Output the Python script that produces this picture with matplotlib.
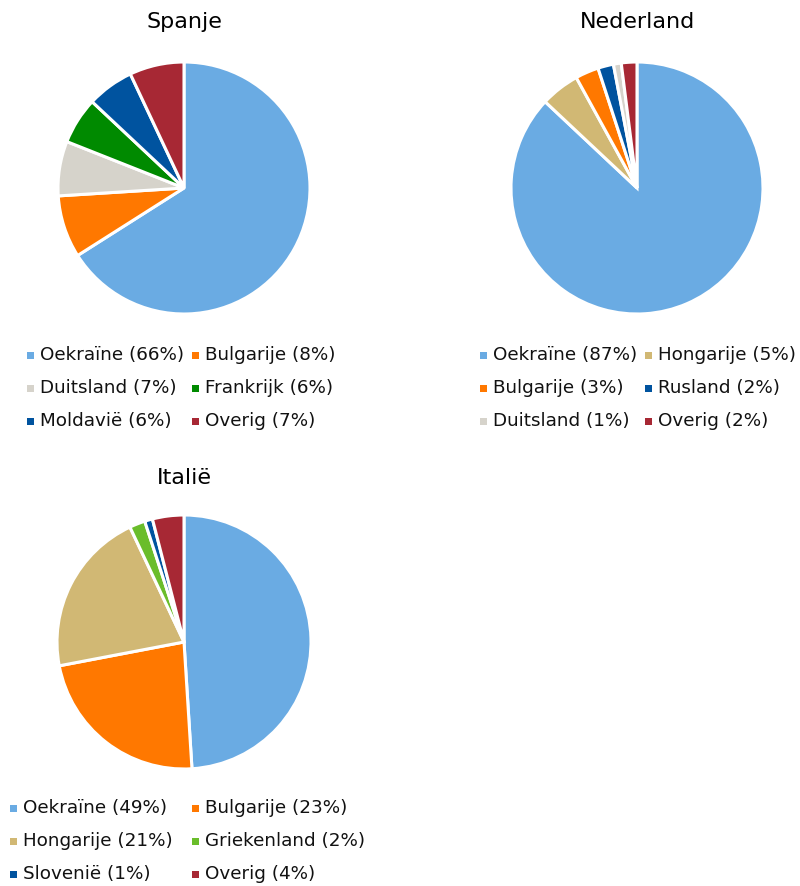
import matplotlib
matplotlib.use("Agg")
import matplotlib.pyplot as plt
from matplotlib.patches import Rectangle

W, H = 800, 886

# Herkomst per land (aandeel in %)
spanje_labels = ["Oekraïne", "Bulgarije", "Duitsland", "Frankrijk", "Moldavië", "Overig"]
spanje_values = [66, 8, 7, 6, 6, 7]

nederland_labels = ["Oekraïne", "Hongarije", "Bulgarije", "Rusland", "Duitsland", "Overig"]
nederland_values = [87, 5, 3, 2, 1, 2]

italie_labels = ["Oekraïne", "Bulgarije", "Hongarije", "Griekenland", "Slovenië", "Overig"]
italie_values = [49, 23, 21, 2, 1, 4]

colors = {
    "Oekraïne": "#6AABE3",
    "Bulgarije": "#FF7800",
    "Duitsland": "#D6D3CB",
    "Frankrijk": "#008A00",
    "Moldavië": "#00539F",
    "Overig": "#A72834",
    "Hongarije": "#D1B874",
    "Griekenland": "#6ABD2B",
    "Rusland": "#00539F",
    "Slovenië": "#00539F",
}

fig = plt.figure(figsize=(W / 100, H / 100), dpi=100)
FONT = "DejaVu Sans"


def px(x, y):
    return x / W, 1 - y / H


def pie_panel(title, labels, values, cx, cy, r, title_y, leg_x, leg_y):
    pad = 1.03
    side = 2 * r * pad
    ax = fig.add_axes([(cx - side / 2) / W, 1 - (cy + side / 2) / H, side / W, side / H])
    ax.pie(values, colors=[colors[l] for l in labels], startangle=90,
           counterclock=False, radius=1,
           wedgeprops=dict(edgecolor="white", linewidth=2.2))
    ax.set_xlim(-pad, pad)
    ax.set_ylim(-pad, pad)
    ax.set_aspect("equal")
    ax.axis("off")

    fig.text(*px(cx, title_y), title, ha="center", va="center", fontsize=16, family=FONT)

    for i, (lab, val) in enumerate(zip(labels, values)):
        col, row = i % 2, i // 2
        x0 = leg_x[col]
        y0 = leg_y + row * 33
        mx, my = px(x0 - 13, y0 + 4)
        fig.patches.append(Rectangle((mx, my), 7 / W, 7 / H, transform=fig.transFigure,
                                     facecolor=colors[lab], edgecolor="none"))
        fig.text(*px(x0, y0), f"{lab} ({val}%)", ha="left", va="center",
                 fontsize=13.2, family=FONT, color="#111111")


pie_panel("Spanje", spanje_labels, spanje_values, 184, 188, 126, 22, (40, 205), 355)
pie_panel("Nederland", nederland_labels, nederland_values, 637, 188, 126, 22, (493, 658), 355)
pie_panel("Italië", italie_labels, italie_values, 184, 642, 127, 478, (23, 205), 808)

fig.savefig("out.png", dpi=100)
